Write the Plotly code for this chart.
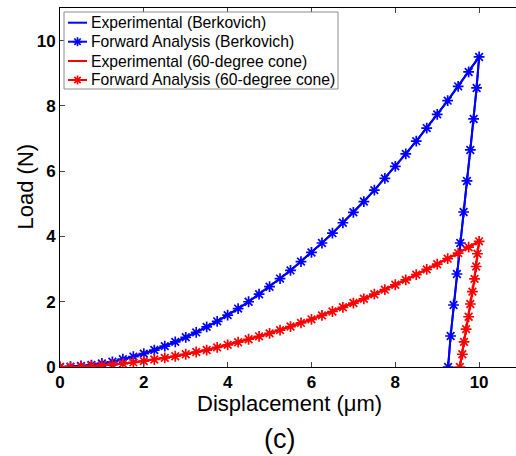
import plotly.graph_objects as go

# Displacement (um) on loading, Berkovich & cone
disp_load = [0, 0.25, 0.5, 0.75, 1.0, 1.25, 1.5, 1.75, 2.0, 2.25, 2.5, 2.75, 3.0, 3.25, 3.5,
             3.75, 4.0, 4.25, 4.5, 4.75, 5.0, 5.25, 5.5, 5.75, 6.0, 6.25, 6.5, 6.75, 7.0, 7.25,
             7.5, 7.75, 8.0, 8.25, 8.5, 8.75, 9.0, 9.25, 9.5, 9.75, 10.0]
berk_load = [0, 0.01, 0.03, 0.06, 0.11, 0.16, 0.24, 0.32, 0.41, 0.52, 0.64, 0.77, 0.91, 1.06,
             1.23, 1.40, 1.59, 1.79, 2.00, 2.23, 2.46, 2.71, 2.96, 3.23, 3.51, 3.80, 4.10, 4.42,
             4.74, 5.07, 5.42, 5.78, 6.15, 6.53, 6.92, 7.32, 7.74, 8.16, 8.60, 9.04, 9.50]
cone_load = [0, 0.00, 0.01, 0.03, 0.05, 0.07, 0.10, 0.14, 0.18, 0.23, 0.28, 0.33, 0.39, 0.46,
             0.52, 0.60, 0.68, 0.76, 0.85, 0.94, 1.03, 1.13, 1.24, 1.35, 1.46, 1.58, 1.70, 1.83,
             1.96, 2.09, 2.23, 2.37, 2.52, 2.67, 2.83, 2.99, 3.15, 3.32, 3.49, 3.67, 3.85]

# Unloading branches
berk_unload_disp = [9.94, 9.87, 9.79, 9.71, 9.63, 9.55, 9.47, 9.39, 9.32, 9.26]
berk_unload_load = [8.55, 7.60, 6.65, 5.70, 4.75, 3.80, 2.85, 1.90, 0.95, 0.00]
cone_unload_disp = [9.96, 9.93, 9.89, 9.84, 9.79, 9.75, 9.69, 9.64, 9.60, 9.54]
cone_unload_load = [3.47, 3.08, 2.70, 2.31, 1.93, 1.54, 1.16, 0.77, 0.39, 0.00]

x_ticks = [0, 2, 4, 6, 8, 10]
y_ticks = [0, 2, 4, 6, 8, 10]

legend_labels = ["Experimental (Berkovich)", "Forward Analysis (Berkovich)",
                 "Experimental (60-degree cone)", "Forward Analysis (60-degree cone)"]

BLUE = "#0000FF"
RED = "#FF0000"
legend_colors = [BLUE, BLUE, RED, RED]
legend_markers = [False, True, False, True]

bx = disp_load + berk_unload_disp
by = berk_load + berk_unload_load
cx = disp_load + cone_unload_disp
cy = cone_load + cone_unload_load

W, H = 516, 456
ML, MR, MT, MB = 60, 0, 8, 89
PW, PH = W - ML - MR, H - MT - MB


def px(xp):
    return (xp - ML) / PW


def py(yp):
    return (H - MB - yp) / PH


fig = go.Figure()
fig.add_trace(go.Scatter(x=bx, y=by, mode="lines", name=legend_labels[0],
                         line=dict(color=BLUE, width=2)))
fig.add_trace(go.Scatter(x=bx, y=by, mode="lines+markers", name=legend_labels[1],
                         line=dict(color=BLUE, width=2),
                         marker=dict(symbol="asterisk-open", size=9,
                                     line=dict(color=BLUE, width=1.7))))
fig.add_trace(go.Scatter(x=cx, y=cy, mode="lines", name=legend_labels[2],
                         line=dict(color=RED, width=2)))
fig.add_trace(go.Scatter(x=cx, y=cy, mode="lines+markers", name=legend_labels[3],
                         line=dict(color=RED, width=2),
                         marker=dict(symbol="asterisk-open", size=9,
                                     line=dict(color=RED, width=1.7))))

FONT = "Liberation Sans, Arial, sans-serif"
shapes = []
annotations = []

# legend box (MATLAB style)
shapes.append(dict(type="rect", xref="paper", yref="paper",
                   x0=px(64), x1=px(338), y0=py(89), y1=py(12),
                   fillcolor="white", line=dict(color="#8c8c8c", width=1), layer="above"))
row_y = [22.7, 41.7, 61.0, 80.0]
for lab, col, mk, ry in zip(legend_labels, legend_colors, legend_markers, row_y):
    shapes.append(dict(type="line", xref="paper", yref="paper",
                       x0=px(68), x1=px(87), y0=py(ry), y1=py(ry),
                       line=dict(color=col, width=2), layer="above"))
    if mk:
        cxp, r = 77.5, 4.5
        d = r * 0.7071
        for (ax, ay, bx_, by_) in [(-r, 0, r, 0), (0, -r, 0, r), (-d, -d, d, d), (-d, d, d, -d)]:
            shapes.append(dict(type="line", xref="paper", yref="paper",
                               x0=px(cxp + ax), x1=px(cxp + bx_),
                               y0=py(ry + ay), y1=py(ry + by_),
                               line=dict(color=col, width=1.7), layer="above"))
    annotations.append(dict(text=lab, xref="paper", yref="paper", x=px(89), y=py(ry),
                            xanchor="left", yanchor="middle", showarrow=False,
                            font=dict(size=15.7, color="black", family=FONT)))

# axis titles and panel label
annotations.append(dict(text="Displacement (\u03bcm)", xref="paper", yref="paper",
                        x=px(289.5), y=py(403), xanchor="center", yanchor="middle",
                        showarrow=False, font=dict(size=22, color="black", family=FONT)))
annotations.append(dict(text="Load (N)", xref="paper", yref="paper", textangle=-90,
                        x=px(25), y=py(186.5), xanchor="center", yanchor="middle",
                        showarrow=False, font=dict(size=22, color="black", family=FONT)))
annotations.append(dict(text="(c)", xref="paper", yref="paper",
                        x=px(279), y=py(439), xanchor="center", yanchor="middle",
                        showarrow=False, font=dict(size=27, color="black", family=FONT)))

fig.update_layout(
    width=W, height=H,
    margin=dict(l=ML, r=MR, t=MT, b=MB),
    paper_bgcolor="white", plot_bgcolor="white",
    font=dict(family=FONT, color="black"),
    showlegend=False,
    shapes=shapes,
    annotations=annotations,
    xaxis=dict(range=[0, 10.88], tickvals=x_ticks, ticks="inside", ticklen=5,
               showline=True, linecolor="black", linewidth=1, mirror="ticks",
               showgrid=False, zeroline=False,
               tickfont=dict(size=17, weight="bold")),
    yaxis=dict(range=[0, 11], tickvals=y_ticks, ticks="inside", ticklen=5,
               showline=True, linecolor="black", linewidth=1,
               showgrid=False, zeroline=False,
               tickfont=dict(size=17, weight="bold")),
)

fig.write_html("out.html")
